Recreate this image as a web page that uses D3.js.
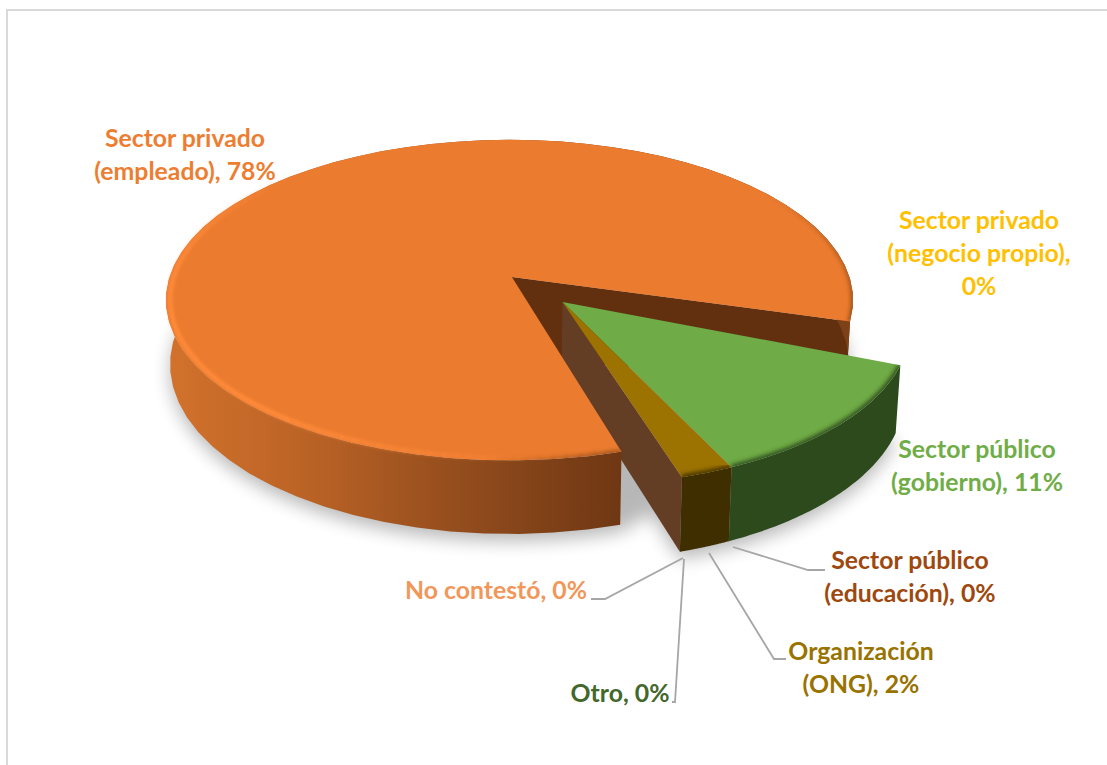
<!DOCTYPE html>
<html><head><meta charset="utf-8">
<script src="https://cdnjs.cloudflare.com/ajax/libs/d3/7.8.5/d3.min.js"></script>
<style>html,body{margin:0;padding:0;background:#fff}svg{display:block}text{font-family:Lato,"Open Sans",sans-serif;font-weight:700}</style>
</head><body><svg id="c" width="1107" height="765"></svg>
<script>
// data
const categories=["Sector privado (empleado)","Sector privado (negocio propio)","Sector público (gobierno)","Sector público (educación)","Organización (ONG)","Otro","No contestó"];
const percents=[78,0,11,0,2,0,0];
const labelLines=[["Sector privado","(empleado), 78%"],["Sector privado","(negocio propio),","0%"],["Sector público","(gobierno), 11%"],["Sector público","(educación), 0%"],["Organización","(ONG), 2%"],["Otro, 0%"],["No contestó, 0%"]];
const colors=["#eb7b2f","#ffc000","#6fab46","#9e480e","#9c7200","#43682b","#f1975a"];
const labelColors=["#ed7d31","#ffc000","#70ad47","#9e480e","#997300","#43682b","#f1975a"];
const wallColors=["#7a3f18","#7f6000","#2c4a1c","#5a2a08","#3f2e00","#26391a","#8a5530"];
// layout
const labelPos=[[185,138],[979,220],[977,449],[910,560],[861,651],[620,693],[496,590]];
const leaders=[null,null,null,[[733,547],[808,570],[825,570]],[[709,553],[774,659],[786,659]],[[684,559],[675,702],[672,702]],[[683,558],[605,599],[591,599]]];
const W=1107,H=765,deg=Math.PI/180;
const cx=509.5,cy=277,rx=340,ry=157,k=0.144,depth=63;
const x=d3.scaleLinear().domain([-1,1]).range([cx-rx,cx+rx]);
const y=d3.scaleLinear().domain([-1,1]).range([cy+ry,cy-ry]);
const proj=(u,v,h=0)=>{const s=1/(1+k*v);return [cx+(x(u*s)-cx)*(1-0.012*h),y(v*s)+h*depth*s];};
const startA=163.5*deg,trim=6.3*deg;
const arcs=d3.pie().value(d=>d).sort(null).startAngle(startA).endAngle(startA+2*Math.PI)(percents);
const groupCfg=i=>i===0?{du:0,dv:0,ax:0.007,ay:0,ru:1,rv:1,turn:0}:{du:0.152,dv:-0.156,ax:0.152,ay:-0.156,ru:0.985,rv:0.96,turn:0.2*deg};
const pt=(cfg,a,h=0)=>proj(cfg.du+cfg.ru*Math.sin(a+cfg.turn),cfg.dv+cfg.rv*Math.cos(a+cfg.turn),h);
const ctr=(cfg,h=0)=>proj(cfg.ax,cfg.ay,h);
const rim=(cfg,a0,a1,h=0)=>d3.range(0,61).map(i=>pt(cfg,a0+(a1-a0)*i/60,h));
const line=d3.line();
const closed=p=>line(p)+"Z";
const svg=d3.select("#c");
const defs=svg.append("defs");
[["b8",9],["b2",2.2],["b1",1.4]].forEach(([id,s])=>defs.append("filter").attr("id",id).attr("x","-20%").attr("y","-20%").attr("width","140%").attr("height","140%").append("feGaussianBlur").attr("stdDeviation",s));
const grad=(id,stops)=>{const g=defs.append("linearGradient").attr("id",id).attr("gradientUnits","userSpaceOnUse").attr("x1",166).attr("x2",860).attr("y1",0).attr("y2",0);stops.forEach(s=>g.append("stop").attr("offset",s[0]).attr("stop-color",s[1]));};
grad("wall",[[0,"#d2722c"],[0.2,"#bb6326"],[0.45,"#8f4a1c"],[0.66,"#6e3713"],[1,"#7e4218"]]);
// frame
svg.append("path").attr("d",`M${W},10H7V${H}`).attr("fill","none").attr("stroke","#d9d9d9").attr("stroke-width",2);
const O=arcs[0],cfgO=groupCfg(0),cfgG=groupCfg(2);
const G=arcs[2],Gd=arcs[4];
const a0=O.startAngle,a1=O.endAngle-trim;
// shadow
const shadow=svg.append("g").attr("filter","url(#b8)").attr("opacity",0.28);
shadow.append("path").attr("d",closed(rim(cfgO,a0,a1,1.03).map(p=>[p[0],p[1]+5]))).attr("fill","#000");
shadow.append("path").attr("d",closed([ctr(cfgG,1.03)].concat(rim(cfgG,G.startAngle,Gd.endAngle,1.03)).map(p=>[p[0],p[1]+5]))).attr("fill","#000");
// orange end face, then the side face of the exploded group, then the orange slice over both
svg.append("path").attr("d",closed([ctr(cfgO),pt(cfgO,a1),pt(cfgO,a1,1),ctr(cfgO,1.25)])).attr("fill","#62300f");
svg.append("path").attr("d",closed([ctr(cfgG),pt(cfgG,Gd.endAngle),pt(cfgG,Gd.endAngle,1),ctr(cfgG,1)])).attr("fill","#633d24");
svg.append("path").attr("d",closed(rim(cfgO,a0,a1).concat(rim(cfgO,a0,a1,1).reverse()))).attr("fill","url(#wall)");
const topO=closed([ctr(cfgO)].concat(rim(cfgO,a0,a1)));
svg.append("path").attr("d",topO).attr("fill",colors[0]);
defs.append("clipPath").attr("id","cO").append("path").attr("d",topO);
// bevel on the orange rim: light on the left, dark toward both ends
const hlOp=d3.scaleLinear().domain([8,55,105,150]).range([0,0.95,0.95,0]).clamp(true);
const hl=svg.append("g").attr("filter","url(#b1)");
const hlCfg={...cfgO,ru:0.988,rv:0.988};
hl.selectAll("path").data(d3.range(0,160,2)).join("path")
  .attr("d",d=>line(rim(hlCfg,a0+d*deg,a0+(d+2.4)*deg)))
  .attr("fill","none").attr("stroke","#ff8a3a").attr("stroke-width",5).attr("opacity",d=>hlOp(d));
const darkOp=d3.scaleLinear().domain([0,18,250,300]).range([0.8,0,0,0.95]).clamp(true);
const dk=svg.append("g").attr("clip-path","url(#cO)").append("g").attr("filter","url(#b2)");
dk.selectAll("path").data(d3.range(0,302,2)).join("path")
  .attr("d",d=>line(rim(cfgO,a0+d*deg,a0+(d+2.4)*deg)))
  .attr("fill","none").attr("stroke","#7e4218").attr("stroke-width",4).attr("opacity",d=>darkOp(d));
// exploded group: slices with a visible width
[2,4].forEach(i=>{const d=arcs[i];
  svg.append("path").attr("d",closed(rim(cfgG,d.startAngle,d.endAngle).concat(rim(cfgG,d.startAngle,d.endAngle,1).reverse()))).attr("fill",wallColors[i]);
  const top=closed([ctr(cfgG)].concat(rim(cfgG,d.startAngle,d.endAngle)));
  svg.append("path").attr("d",top).attr("fill",colors[i]);
  defs.append("clipPath").attr("id","cG"+i).append("path").attr("d",top);
  svg.append("g").attr("clip-path",`url(#cG${i})`).append("path").attr("d",line(rim(cfgG,d.startAngle,d.endAngle))).attr("fill","none").attr("stroke",wallColors[i]).attr("stroke-width",5).attr("filter","url(#b2)");
});
// leaders
leaders.forEach(l=>{if(l)svg.append("path").attr("d",line(l)).attr("fill","none").attr("stroke","#a6a6a6").attr("stroke-width",1.8);});
// labels
labelLines.forEach((ls,i)=>{
  const t=svg.append("text").attr("text-anchor","middle").attr("fill",labelColors[i]).attr("font-size",24.8);
  ls.forEach((s,j)=>t.append("tspan").attr("x",labelPos[i][0]).attr("y",labelPos[i][1]+j*33).attr("dy","0.36em").text(s));
});
</script></body></html>
